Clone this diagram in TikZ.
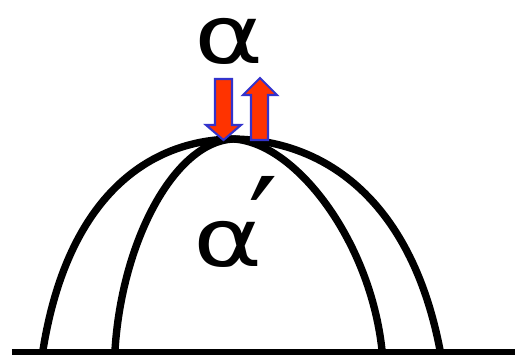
\documentclass[tikz,border=0pt]{standalone}
\usepackage{fontspec}
\newfontfamily\greekfont{DejaVu Sans}
\usetikzlibrary{positioning}

\begin{document}
\begin{tikzpicture}[
    x=0.02cm, y=-0.02cm,
    dome/.style  = {draw=black, line width=4.2pt, line cap=round},
    base/.style  = {draw=black, line width=3.4pt},
    flow/.style  = {fill={rgb,255:red,255;green,51;blue,0}, draw={rgb,255:red,51;green,51;blue,204}, line width=1.2pt, line join=miter},
    glab/.style  = {font=\greekfont\fontsize{46}{46}\selectfont, inner sep=0pt}
  ]
  \useasboundingbox (0,0) rectangle (515,361);

  % --- ground and apex ---
  \coordinate (G1) at (12,352);
  \coordinate (G2) at (515,352);
  \coordinate (top) at (233,139);
  \draw[base] (G1) -- (G2);

  % --- outer and inner arcs ---
  \draw[dome] (43,350) .. controls (68,195) and (150,140) .. (top)
                       .. controls (320,140) and (410,195) .. (440,350);
  \draw[dome] (115,350) .. controls (122,240) and (175,142) .. (top)
                        .. controls (295,142) and (370,240) .. (382,350);

  % --- labels ---
  \node[glab, anchor=base] (alpha) at (229,64) {\scalebox{1.3}[1]{α}};
  \node[glab, anchor=base west] (alphaP) at (193,267)
       {\scalebox{1.3}[1]{α}\kern-8pt\raisebox{-3pt}{\fontsize{75}{75}\selectfont ′}};

  % --- exchange arrows ---
  \draw[flow] (215,79) -- (232,79) -- (232,125) -- (241,125) -- (223.5,140)
              -- (206,125) -- (215,125) -- cycle;
  \draw[flow] (251,140) -- (268,140) -- (268,95) -- (277,95) -- (260,78)
              -- (243,95) -- (251,95) -- cycle;
\end{tikzpicture}
\end{document}
